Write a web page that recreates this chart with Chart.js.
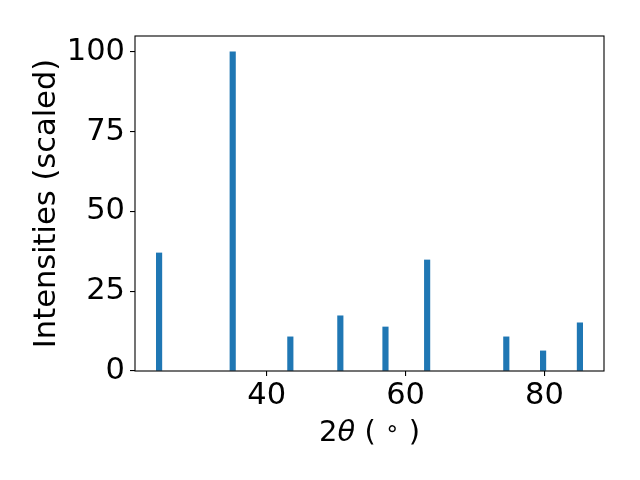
<!DOCTYPE html>
<html>
<head>
<meta charset="utf-8">
<script src="https://cdn.jsdelivr.net/npm/chart.js@4/dist/chart.umd.min.js"></script>
<style>
html,body{margin:0;padding:0;background:#fff;}
canvas{display:block;}
</style>
</head>
<body>
<canvas id="c" width="640" height="480"></canvas>
<script>
const twoTheta = [24.5, 35.1, 43.4, 50.6, 57.1, 63.1, 74.5, 79.8, 85.1];
const intensities = [37.0, 100, 10.7, 17.3, 13.8, 34.8, 10.7, 6.3, 15.1];
const xTickValues = [40, 60, 80];
const yTickValues = [0, 25, 50, 75, 100];
const yLabel = 'Intensities (scaled)';

const FONT = '"DejaVu Sans", sans-serif';
const FS = 30.5;
const XFS = 29;
const barW = 0.8;
const xLo = Math.min(...twoTheta) - barW / 2, xHi = Math.max(...twoTheta) + barW / 2;
const xMin = xLo - 0.05 * (xHi - xLo), xMax = xHi + 0.05 * (xHi - xLo);
const yMax = Math.max(...intensities) * 1.05;

const frame = {
  id: 'frame',
  afterDraw(chart) {
    const ctx = chart.ctx, a = chart.chartArea;
    ctx.save();
    ctx.strokeStyle = '#000';
    ctx.lineWidth = 1.1;
    ctx.strokeRect(a.left, a.top, a.right - a.left, a.bottom - a.top);
    ctx.fillStyle = '#000';
    // y label
    ctx.save();
    ctx.translate(55, (a.top + a.bottom) / 2);
    ctx.rotate(-Math.PI / 2);
    ctx.font = FS + 'px ' + FONT;
    ctx.textAlign = 'center';
    ctx.textBaseline = 'alphabetic';
    ctx.fillText(yLabel, 0, 0);
    ctx.restore();
    // x label: 2θ (°)
    const parts = [
      {t: '2', f: XFS + 'px ' + FONT, dy: 0},
      {t: 'θ', f: 'oblique ' + XFS + 'px ' + FONT, dy: 0},
      {t: ' ( ', f: XFS + 'px ' + FONT, dy: 0},
      {t: '∘', f: (XFS * 0.8) + 'px ' + FONT, dy: -5},
      {t: ' )', f: XFS + 'px ' + FONT, dy: 0}
    ];
    let total = 0;
    parts.forEach(p => { ctx.font = p.f; p.w = ctx.measureText(p.t).width; total += p.w; });
    let x = (a.left + a.right) / 2 - total / 2;
    const base = 441;
    ctx.textAlign = 'left';
    ctx.textBaseline = 'alphabetic';
    parts.forEach(p => { ctx.font = p.f; ctx.fillText(p.t, x, base + p.dy); x += p.w; });
    ctx.restore();
  }
};

new Chart(document.getElementById('c'), {
  type: 'bar',
  data: {
    datasets: [{
      data: twoTheta.map((v, i) => ({x: v, y: intensities[i]})),
      backgroundColor: '#1f77b4',
      borderWidth: 0,
      barThickness: 5.5
    }]
  },
  options: {
    responsive: false,
    animation: false,
    devicePixelRatio: 1,
    layout: {padding: {left: 0, top: 36, right: 36, bottom: 0}},
    plugins: {legend: {display: false}, tooltip: {enabled: false}},
    scales: {
      x: {
        type: 'linear',
        min: xMin, max: xMax,
        offset: false,
        afterBuildTicks: s => { s.ticks = xTickValues.map(v => ({value: v})); },
        afterFit: s => { s.height = 109; },
        grid: {display: true, offset: false, drawOnChartArea: false, drawTicks: true, tickLength: 5, color: '#000', lineWidth: 1.1},
        border: {display: false},
        ticks: {color: '#000', font: {family: FONT, size: FS}, padding: 2, maxRotation: 0, autoSkip: false}
      },
      y: {
        type: 'linear',
        min: 0, max: yMax,
        afterBuildTicks: s => { s.ticks = yTickValues.map(v => ({value: v})); },
        afterFit: s => { s.width = 135; },
        grid: {display: true, drawOnChartArea: false, drawTicks: true, tickLength: 5, color: '#000', lineWidth: 1.1},
        border: {display: false},
        ticks: {color: '#000', font: {family: FONT, size: FS}, padding: 5, autoSkip: false}
      }
    }
  },
  plugins: [frame]
});
</script>
</body>
</html>
